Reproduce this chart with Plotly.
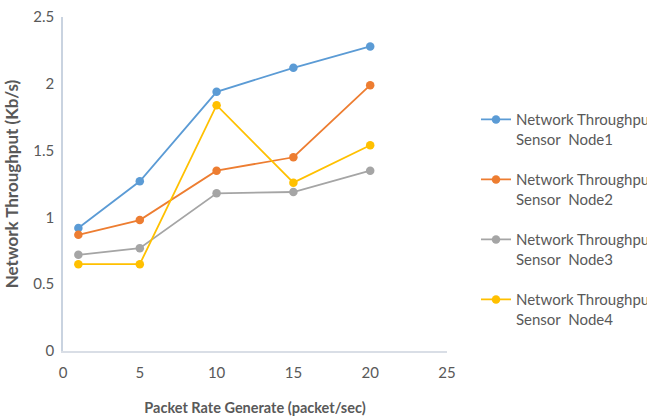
import plotly.graph_objects as go

# Packet rate generated (packet/sec)
packet_rate = [1, 5, 10, 15, 20]

# Network throughput (Kb/s) per sensor node
node1 = [0.92, 1.27, 1.94, 2.12, 2.28]
node2 = [0.87, 0.98, 1.35, 1.45, 1.99]
node3 = [0.72, 0.77, 1.18, 1.19, 1.35]
node4 = [0.65, 0.65, 1.84, 1.26, 1.54]

series_names = [
    "Network Throughput<br>Sensor  Node1",
    "Network Throughput<br>Sensor  Node2",
    "Network Throughput<br>Sensor  Node3",
    "Network Throughput<br>Sensor  Node4",
]
colors = ["#5B9BD5", "#ED7D31", "#A5A5A5", "#FFC000"]

FONT = "Lato, Open Sans, sans-serif"
TEXT = "#595959"

fig = go.Figure()
for i, (name, ys, c) in enumerate(zip(series_names, [node1, node2, node3, node4], colors)):
    fig.add_trace(go.Scatter(
        x=packet_rate, y=ys, name=name, mode="lines+markers",
        line=dict(color=c, width=1.8),
        marker=dict(color=c, size=8.5),
        legendgroup=f"g{i}",
    ))

fig.update_layout(
    width=647, height=416,
    margin=dict(l=63, r=200, t=17, b=65, autoexpand=False),
    paper_bgcolor="white", plot_bgcolor="white",
    font=dict(family=FONT, size=15, color=TEXT),
    showlegend=True,
    legend=dict(
        x=1.0755, y=0.742, xanchor="left", yanchor="top",
        font=dict(family=FONT, size=15, color=TEXT),
        valign="top", tracegroupgap=18,
        bgcolor="rgba(0,0,0,0)",
    ),
    xaxis=dict(
        range=[0, 25], tickvals=[0, 5, 10, 15, 20, 25],
        showgrid=False, zeroline=False, showline=True,
        linecolor="#D9DEE6", linewidth=1.5, ticks="",
        ticklabelstandoff=7,
        tickfont=dict(size=15, color=TEXT),
        title=dict(text="<b>Packet Rate Generate (packet/sec)</b>",
                   font=dict(size=14.5, color=TEXT), standoff=28),
    ),
    yaxis=dict(
        range=[0, 2.5], tickvals=[0, 0.5, 1, 1.5, 2, 2.5],
        showgrid=False, zeroline=False, showline=True,
        linecolor="#C9D3E0", linewidth=1.5, ticks="",
        ticklabelstandoff=4,
        tickfont=dict(size=15, color=TEXT),
        title=dict(text="<b>Network Throughput (Kb/s)</b>",
                   font=dict(size=17, color=TEXT), standoff=10),
    ),
)

fig.write_html("out.html")
